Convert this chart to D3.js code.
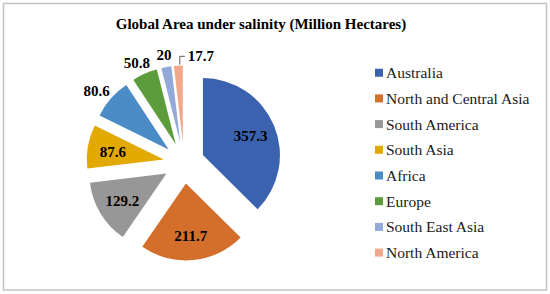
<!DOCTYPE html>
<html>
<head>
<meta charset="utf-8">
<script src="https://cdn.jsdelivr.net/npm/d3@7"></script>
<style>
  body { margin: 0; background: #fff; }
</style>
</head>
<body>
<div id="vis"><svg></svg></div>
<script>
// chart data
const regions = ["Australia", "North and Central Asia", "South America", "South Asia",
                 "Africa", "Europe", "South East Asia", "North America"];
const areas = [357.3, 211.7, 129.2, 87.6, 80.6, 50.8, 20, 17.7];
const sliceColors = ["#3a62ae", "#d36f2b", "#979797", "#e2a900",
                     "#4b8bc6", "#5c9c3c", "#93a9da", "#f1a98c"];
const chartTitle = "Global Area under salinity (Million Hectares)";

const serif = "'Liberation Serif', 'Times New Roman', Tinos, 'DejaVu Serif', serif";
const w = 550, h = 294;
const cx = 184, cy = 163;
const radius = 77, explode = 20.5;

const svg = d3.select("#vis").select("svg")
  .attr("width", w)
  .attr("height", h)
  .style("font-family", serif);

// outer frame
svg.append("rect")
  .attr("x", 3.5).attr("y", 3.5)
  .attr("width", 543).attr("height", 286.5)
  .attr("fill", "#fff")
  .attr("stroke", "#c4c4c4")
  .attr("stroke-width", 1.5);

svg.append("text")
  .attr("x", 261).attr("y", 29)
  .attr("text-anchor", "middle")
  .attr("font-family", serif)
  .attr("font-size", 15)
  .attr("font-weight", "bold")
  .attr("fill", "#000")
  .text(chartTitle);

const rows = regions.map((r, i) => ({ region: r, value: areas[i], color: sliceColors[i] }));
const total = d3.sum(areas);

const pie = d3.pie().sort(null).value(d => d.value).startAngle(0).endAngle(2 * Math.PI);
const arc = d3.arc().innerRadius(0).outerRadius(radius);
const arcs = pie(rows);

// every slice is pulled out along its bisector
arcs.forEach(a => {
  a.mid = (a.startAngle + a.endAngle) / 2;
  a.dx = Math.sin(a.mid);
  a.dy = -Math.cos(a.mid);
  a.ox = cx + a.dx * explode;
  a.oy = cy + a.dy * explode;
});

const pieG = svg.append("g");
pieG.selectAll("path")
  .data(arcs)
  .enter().append("path")
    .attr("transform", d => `translate(${d.ox},${d.oy})`)
    .attr("d", arc)
    .attr("fill", d => d.data.color);

// labels: big slices inside, small ones outside
const labelG = svg.append("g");
let lastBox = null;
arcs.forEach(a => {
  const share = a.data.value / total;
  const t = labelG.append("text")
    .attr("font-family", serif)
    .attr("font-size", 15)
    .attr("font-weight", "bold")
    .attr("fill", "#000")
    .attr("text-anchor", "middle")
    .attr("dominant-baseline", "central")
    .text(a.data.value);
  const tw = t.node().getComputedTextLength();
  const th = 12;
  if (share >= 0.09) {
    const r = radius * 0.67;
    t.attr("x", a.ox + a.dx * r).attr("y", a.oy + a.dy * r + 1);
    return;
  }
  const r = radius + 6;
  let x = a.ox + a.dx * r + a.dx * tw / 2;
  let y = a.oy + a.dy * r + a.dy * th / 2;
  const box = { x0: x - tw / 2, x1: x + tw / 2, y0: y - th / 2, y1: y + th / 2 };
  if (lastBox && box.x0 < lastBox.x1 && box.y1 > lastBox.y0 && box.y0 < lastBox.y1) {
    // collides with the previous label: push right and draw a leader
    const lx = a.ox + a.dx * radius + 1.5;
    const ly = a.oy + a.dy * radius - 1;
    y = (lastBox.y0 + lastBox.y1) / 2 + 1;
    x = lx + 8 + tw / 2;
    labelG.append("path")
      .attr("d", `M${lx},${ly}V${y}H${lx + 5}`)
      .attr("fill", "none")
      .attr("stroke", "#595959")
      .attr("stroke-width", 1);
    lastBox = { x0: x - tw / 2, x1: x + tw / 2, y0: y - th / 2, y1: y + th / 2 };
  } else {
    lastBox = box;
  }
  t.attr("x", x).attr("y", y);
});

// legend
const legend = svg.append("g").attr("transform", "translate(375,72.7)");
const item = legend.selectAll("g")
  .data(rows)
  .enter().append("g")
    .attr("transform", (d, i) => `translate(0,${i * 25.7})`);
item.append("rect")
  .attr("x", 0).attr("y", -4)
  .attr("width", 8).attr("height", 8)
  .attr("fill", d => d.color);
item.append("text")
  .attr("x", 11).attr("y", 0)
  .attr("dominant-baseline", "central")
  .attr("font-family", serif)
  .attr("font-size", 15.5)
  .attr("fill", "#1a1a1a")
  .text(d => d.region);
</script>
</body>
</html>
